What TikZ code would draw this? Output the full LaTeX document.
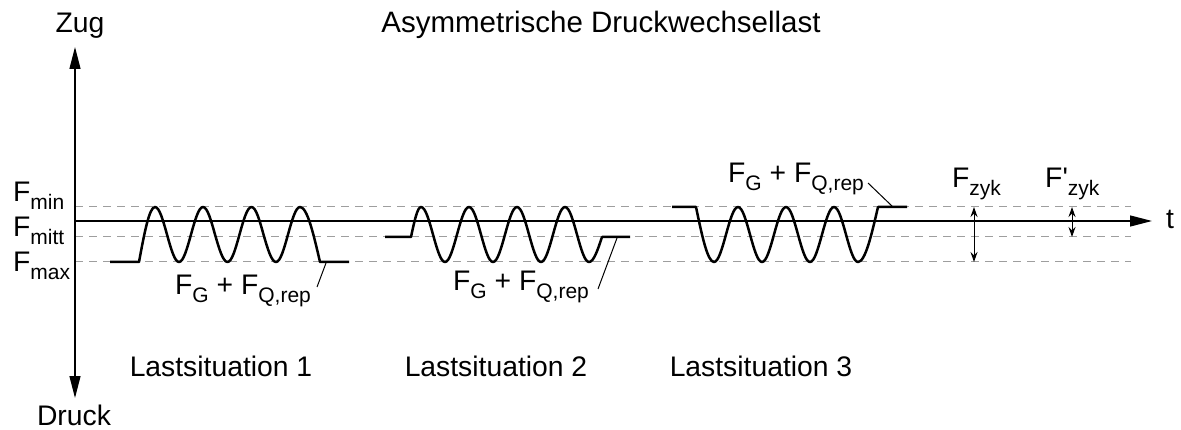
\documentclass[tikz,border=0pt]{standalone}
\usepackage{fontspec}
\setmainfont{Liberation Sans}
\newfontfamily\nomapfont{Liberation Sans}[Ligatures=TeXOff]
\usetikzlibrary{arrows.meta}
\newcommand\lsub[1]{\raisebox{-8pt}{\fontsize{21}{24}\selectfont #1}}
\begin{document}
\begin{tikzpicture}[x=1pt,y=-1pt,
  lbl/.style={inner sep=0pt,font=\fontsize{28.3}{32}\selectfont},
  axis/.style={line width=1.3pt},
  guide/.style={draw=black!38,line width=1pt,dash pattern=on 8pt off 6pt},
  wave/.style={line width=2.5pt,line join=round},
  leader/.style={line width=1pt},
  dim/.style={line width=1pt,{Stealth[length=10pt,width=7pt]}-{Stealth[length=10pt,width=7pt]}}]
\useasboundingbox (0,0) rectangle (1181,430);
% texts
\node[lbl,anchor=base] (zug) at (80,33) {Zug};
\node[lbl,anchor=base,font=\fontsize{29.5}{33}\selectfont] (title) at (601,33) {Asymmetrische Druckwechsellast};
\node[lbl,anchor=base] (druck) at (74,425) {Druck};
\node[lbl,anchor=base] (ls1) at (221,376) {Lastsituation 1};
\node[lbl,anchor=base] (ls2) at (496,376) {Lastsituation 2};
\node[lbl,anchor=base] (ls3) at (761,376) {Lastsituation 3};
\node[lbl,anchor=base west] (fmin) at (13,202) {F\lsub{min}};
\node[lbl,anchor=base west] (fmitt) at (13,237) {F\lsub{mitt}};
\node[lbl,anchor=base west] (fmax) at (13,272) {F\lsub{max}};
\node[lbl,anchor=base west] (t) at (1166,229) {t};
\node[lbl,anchor=base west] (q1) at (175,295) {F\lsub{G} + F\lsub{Q,rep}};
\node[lbl,anchor=base west] (q2) at (453,291) {F\lsub{G} + F\lsub{Q,rep}};
\node[lbl,anchor=base west] (q3) at (728,183) {F\lsub{G} + F\lsub{Q,rep}};
\node[lbl,anchor=base west] (fzyk) at (952,188) {F\lsub{zyk}};
\node[lbl,anchor=base west] (fzykp) at (1045,188) {F{\nomapfont '}\lsub{zyk}};
% guide lines
\coordinate (g1a) at (75,207); \coordinate (g1b) at (1131,207);
\coordinate (g2a) at (75,237); \coordinate (g2b) at (1131,237);
\coordinate (g3a) at (75,262); \coordinate (g3b) at (1131,262);
\draw[guide] (g1a) -- (g1b);
\draw[guide] (g2a) -- (g2b);
\draw[guide] (g3a) -- (g3b);
% axes
\coordinate (ytop) at (75,47); \coordinate (ybot) at (75,398);
\coordinate (xl) at (75,221); \coordinate (xr) at (1152,221);
\draw[axis,{Triangle[length=22pt,width=11pt]}-{Triangle[length=22pt,width=11pt]}] (ytop) -- (ybot);
\draw[axis,-{Triangle[length=22pt,width=11pt]}] (xl) -- (xr);
% waves
\draw[wave] (110,262) -- (139,262) sin (155,207) cos (167,234.5) sin (179,262)
  cos (191,234.5) sin (203,207) cos (215,234.5) sin (227.5,262)
  cos (239.5,234.5) sin (251.5,207) cos (263.5,234.5) sin (276,262)
  cos (288,234.5) sin (300,207) cos (320,262) -- (349,262);
\draw[wave] (385,237) -- (411,237) sin (421,207) cos (433,234.5) sin (445,262)
  cos (457,234.5) sin (469,207) cos (481,234.5) sin (493,262)
  cos (505,234.5) sin (517,207) cos (529,234.5) sin (541,262)
  cos (553,234.5) sin (565,207) cos (577,234.5) sin (589,262)
  cos (602,237) -- (630,237);
\draw[wave] (672,207) -- (696,207) sin (714,262) cos (726,234.5) sin (738,207)
  cos (750,234.5) sin (762,262) cos (774,234.5) sin (786,207)
  cos (798,234.5) sin (810,262) cos (822,234.5) sin (834,207)
  cos (846,234.5) sin (858,262) cos (878,207) -- (907,207);
% leaders
\coordinate (l1a) at (326,263); \coordinate (l1b) at (317,287);
\coordinate (l2a) at (617,238); \coordinate (l2b) at (598,289);
\coordinate (l3a) at (868,183); \coordinate (l3b) at (893,207);
\draw[leader] (l1a) -- (l1b);
\draw[leader] (l2a) -- (l2b);
\draw[leader] (l3a) -- (l3b);
% dimension arrows
\coordinate (z1a) at (974,207); \coordinate (z1b) at (974,262);
\coordinate (z2a) at (1072,207); \coordinate (z2b) at (1072,237);
\draw[dim] (z1a) -- (z1b);
\draw[dim] (z2a) -- (z2b);
\end{tikzpicture}
\end{document}
